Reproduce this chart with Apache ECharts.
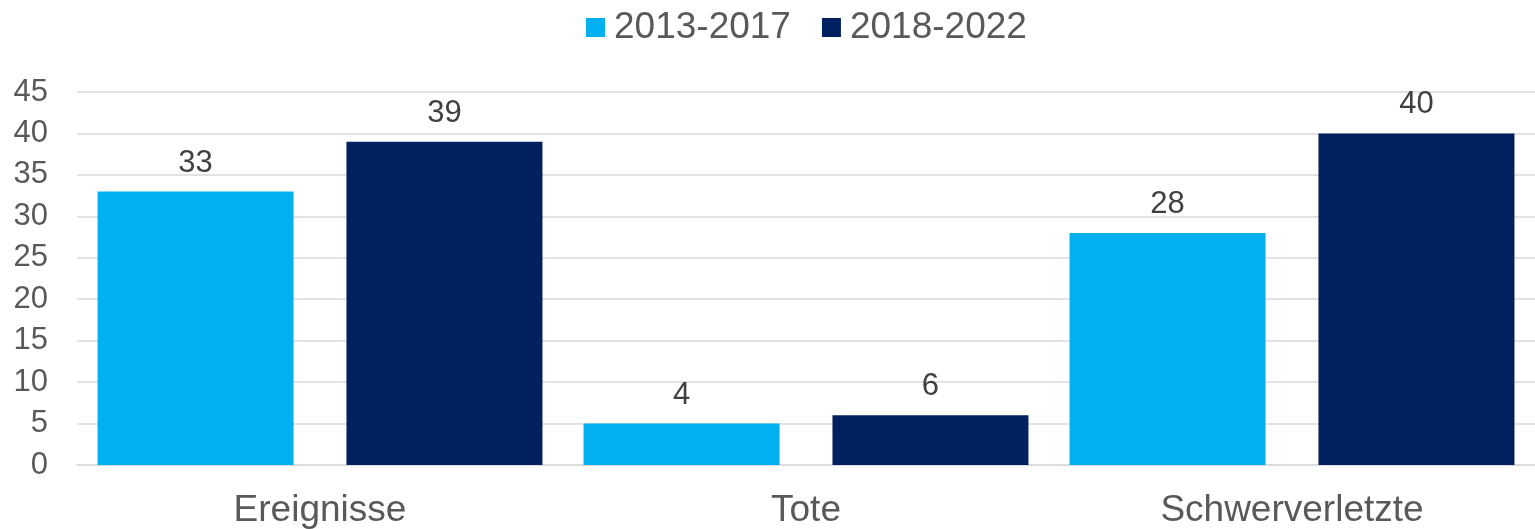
<!DOCTYPE html>
<html>
<head>
<meta charset="utf-8">
<script src="https://cdn.jsdelivr.net/npm/echarts@6/dist/echarts.min.js"></script>
<style>
  html, body { margin: 0; padding: 0; background: #fff; }
  #chart { width: 1535px; height: 529px; }
</style>
</head>
<body>
<div id="chart"></div>
<script>
const categories = ['Ereignisse', 'Tote', 'Schwerverletzte'];
const seriesNames = ['2013-2017', '2018-2022'];
const values2013 = [33, 5, 28];
const values2018 = [39, 6, 40];
// labels as printed in the source (bar "Tote" 2013-2017 is drawn at 5, labelled 4)
const labels2013 = ['33', '4', '28'];
const labels2018 = ['39', '6', '40'];
const colors = ['#00B0F0', '#002060'];

const FONT = '"Liberation Sans", Arial, sans-serif';

const chart = echarts.init(document.getElementById('chart'));

function makeSeries(name, data, labels, color) {
    return {
        name: name,
        type: 'bar',
        data: data,
        barWidth: 196,
        barGap: '27%',
        itemStyle: { color: color },
        label: {
            show: true,
            position: 'top',
            distance: 13,
            color: '#404040',
            fontSize: 31,
            fontFamily: FONT,
            formatter: function (p) { return labels[p.dataIndex]; }
        }
    };
}

const option = {
    animation: false,
    legend: {
        data: seriesNames,
        left: 581,
        top: 4,
        icon: 'rect',
        itemWidth: 19,
        itemHeight: 19,
        itemGap: 31,
        textStyle: {
            fontSize: 37,
            color: '#595959',
            fontFamily: FONT,
            padding: [0, 0, 0, 4]
        }
    },
    grid: {
        left: 77,
        right: 0,
        top: 92,
        bottom: 64,
        containLabel: false
    },
    xAxis: {
        type: 'category',
        data: categories,
        axisLine: { lineStyle: { color: '#d9d9d9', width: 1.5 } },
        axisTick: { show: false },
        axisLabel: {
            fontSize: 37,
            color: '#595959',
            fontFamily: FONT,
            margin: 27
        }
    },
    yAxis: {
        type: 'value',
        min: 0,
        max: 45,
        interval: 5,
        axisLine: { show: false },
        axisTick: { show: false },
        splitLine: { lineStyle: { color: '#d9d9d9', width: 1.5 } },
        axisLabel: {
            fontSize: 31,
            color: '#595959',
            fontFamily: FONT,
            margin: 29
        }
    },
    series: [
        makeSeries(seriesNames[0], values2013, labels2013, colors[0]),
        makeSeries(seriesNames[1], values2018, labels2018, colors[1])
    ]
};

chart.setOption(option);
</script>
</body>
</html>
